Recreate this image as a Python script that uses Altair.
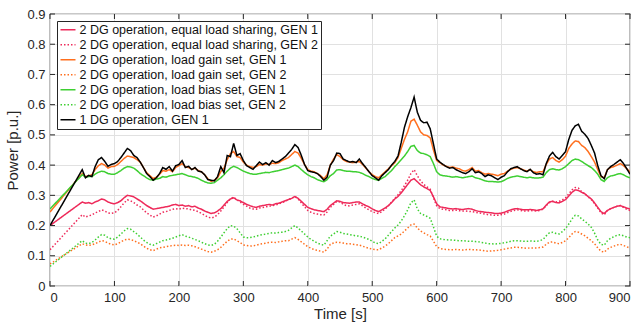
import altair as alt
import pandas as pd

# time axis [s]
time_s = [0] + list(range(50, 905, 5))

black_1dg = [0.200,
 0.385, 0.358, 0.366, 0.362, 0.395, 0.418, 0.425, 0.412, 0.396, 0.402,
 0.405, 0.412, 0.425, 0.440, 0.455, 0.448, 0.432, 0.425, 0.410, 0.392,
 0.372, 0.362, 0.350, 0.358, 0.372, 0.392, 0.386, 0.395, 0.380, 0.398,
 0.402, 0.415, 0.392, 0.396, 0.385, 0.392, 0.380, 0.378, 0.368, 0.352,
 0.350, 0.348, 0.362, 0.395, 0.375, 0.432, 0.428, 0.472, 0.432, 0.438,
 0.415, 0.398, 0.392, 0.386, 0.398, 0.410, 0.402, 0.408, 0.400, 0.415,
 0.408, 0.412, 0.420, 0.428, 0.440, 0.452, 0.468, 0.458, 0.432, 0.402,
 0.382, 0.378, 0.376, 0.372, 0.362, 0.350, 0.360, 0.400, 0.415, 0.440,
 0.438, 0.420, 0.415, 0.410, 0.412, 0.408, 0.420, 0.405, 0.392, 0.378,
 0.365, 0.358, 0.350, 0.365, 0.375, 0.385, 0.400, 0.412, 0.430, 0.475,
 0.525, 0.560, 0.590, 0.625, 0.575, 0.548, 0.540, 0.542, 0.520, 0.470,
 0.420, 0.410, 0.402, 0.395, 0.390, 0.392, 0.385, 0.380, 0.375, 0.372,
 0.378, 0.388, 0.375, 0.378, 0.372, 0.362, 0.368, 0.365, 0.358, 0.352,
 0.360, 0.365, 0.378, 0.388, 0.392, 0.395, 0.388, 0.382, 0.378, 0.386,
 0.375, 0.370, 0.372, 0.368, 0.405, 0.430, 0.442, 0.428, 0.420, 0.432,
 0.445, 0.485, 0.515, 0.530, 0.535, 0.512, 0.502, 0.488, 0.465, 0.440,
 0.398, 0.365, 0.355, 0.385, 0.395, 0.402, 0.410, 0.418, 0.405, 0.388,
 0.370]

gain_gen1 = [0.245,
 0.372, 0.362, 0.365, 0.368, 0.385, 0.398, 0.405, 0.400, 0.390, 0.395,
 0.396, 0.402, 0.412, 0.422, 0.430, 0.428, 0.425, 0.418, 0.410, 0.392,
 0.375, 0.365, 0.356, 0.360, 0.370, 0.382, 0.380, 0.385, 0.378, 0.392,
 0.398, 0.405, 0.395, 0.392, 0.386, 0.390, 0.382, 0.378, 0.368, 0.355,
 0.346, 0.350, 0.358, 0.378, 0.390, 0.418, 0.438, 0.445, 0.428, 0.425,
 0.410, 0.400, 0.395, 0.392, 0.395, 0.402, 0.400, 0.404, 0.402, 0.406,
 0.405, 0.408, 0.415, 0.420, 0.425, 0.435, 0.445, 0.440, 0.422, 0.402,
 0.385, 0.380, 0.378, 0.372, 0.365, 0.355, 0.368, 0.400, 0.420, 0.435,
 0.428, 0.418, 0.412, 0.410, 0.408, 0.410, 0.412, 0.402, 0.390, 0.378,
 0.368, 0.362, 0.358, 0.368, 0.378, 0.388, 0.398, 0.408, 0.425, 0.455,
 0.485, 0.510, 0.545, 0.552, 0.532, 0.510, 0.500, 0.498, 0.490, 0.450,
 0.415, 0.408, 0.400, 0.396, 0.392, 0.394, 0.390, 0.388, 0.382, 0.380,
 0.385, 0.392, 0.380, 0.382, 0.375, 0.370, 0.372, 0.370, 0.368, 0.365,
 0.370, 0.372, 0.380, 0.386, 0.390, 0.392, 0.388, 0.384, 0.380, 0.385,
 0.378, 0.376, 0.378, 0.378, 0.402, 0.420, 0.425, 0.415, 0.410, 0.418,
 0.430, 0.455, 0.470, 0.480, 0.478, 0.465, 0.458, 0.445, 0.428, 0.410,
 0.385, 0.362, 0.358, 0.385, 0.392, 0.395, 0.400, 0.405, 0.398, 0.388,
 0.378]

bias_gen1 = [0.255,
 0.368, 0.360, 0.362, 0.362, 0.370, 0.376, 0.380, 0.378, 0.372, 0.370,
 0.370, 0.375, 0.382, 0.390, 0.395, 0.394, 0.390, 0.382, 0.372, 0.365,
 0.358, 0.352, 0.350, 0.354, 0.356, 0.362, 0.360, 0.364, 0.366, 0.368,
 0.370, 0.372, 0.368, 0.364, 0.362, 0.360, 0.356, 0.350, 0.345, 0.341,
 0.340, 0.342, 0.350, 0.358, 0.368, 0.380, 0.390, 0.396, 0.392, 0.386,
 0.380, 0.376, 0.372, 0.370, 0.370, 0.372, 0.374, 0.376, 0.375, 0.378,
 0.380, 0.382, 0.385, 0.388, 0.390, 0.395, 0.400, 0.395, 0.385, 0.376,
 0.368, 0.362, 0.358, 0.352, 0.348, 0.345, 0.352, 0.365, 0.372, 0.384,
 0.385, 0.382, 0.380, 0.380, 0.378, 0.378, 0.376, 0.372, 0.366, 0.362,
 0.356, 0.352, 0.350, 0.356, 0.362, 0.372, 0.382, 0.395, 0.406, 0.418,
 0.430, 0.445, 0.462, 0.465, 0.448, 0.440, 0.438, 0.434, 0.428, 0.405,
 0.378, 0.368, 0.365, 0.364, 0.362, 0.360, 0.362, 0.360, 0.358, 0.360,
 0.362, 0.364, 0.358, 0.356, 0.352, 0.348, 0.346, 0.346, 0.345, 0.344,
 0.345, 0.350, 0.356, 0.360, 0.362, 0.364, 0.362, 0.360, 0.358, 0.360,
 0.358, 0.357, 0.358, 0.360, 0.375, 0.385, 0.388, 0.385, 0.384, 0.388,
 0.395, 0.405, 0.415, 0.420, 0.418, 0.412, 0.405, 0.398, 0.392, 0.382,
 0.370, 0.352, 0.346, 0.358, 0.364, 0.366, 0.370, 0.372, 0.368, 0.362,
 0.358]

equal_gen1 = [0.200,
 0.278, 0.274, 0.276, 0.272, 0.278, 0.282, 0.288, 0.285, 0.278, 0.274,
 0.272, 0.276, 0.282, 0.292, 0.300, 0.298, 0.295, 0.288, 0.282, 0.274,
 0.266, 0.260, 0.254, 0.256, 0.258, 0.260, 0.262, 0.264, 0.268, 0.270,
 0.266, 0.268, 0.264, 0.266, 0.262, 0.264, 0.258, 0.254, 0.248, 0.244,
 0.240, 0.242, 0.248, 0.256, 0.268, 0.280, 0.288, 0.292, 0.285, 0.282,
 0.276, 0.270, 0.266, 0.262, 0.260, 0.264, 0.266, 0.268, 0.270, 0.268,
 0.272, 0.274, 0.278, 0.282, 0.286, 0.290, 0.296, 0.290, 0.280, 0.270,
 0.260, 0.256, 0.252, 0.250, 0.248, 0.246, 0.254, 0.266, 0.274, 0.282,
 0.280, 0.276, 0.275, 0.274, 0.276, 0.278, 0.278, 0.272, 0.266, 0.262,
 0.255, 0.250, 0.246, 0.252, 0.258, 0.266, 0.276, 0.288, 0.296, 0.308,
 0.322, 0.336, 0.350, 0.355, 0.345, 0.335, 0.328, 0.322, 0.316, 0.295,
 0.272, 0.262, 0.260, 0.258, 0.256, 0.255, 0.256, 0.254, 0.253, 0.255,
 0.256, 0.254, 0.250, 0.247, 0.246, 0.244, 0.243, 0.242, 0.240, 0.240,
 0.241, 0.244, 0.248, 0.252, 0.255, 0.256, 0.254, 0.252, 0.252, 0.253,
 0.252, 0.250, 0.252, 0.255, 0.268, 0.278, 0.280, 0.276, 0.275, 0.280,
 0.286, 0.298, 0.310, 0.318, 0.316, 0.310, 0.305, 0.296, 0.288, 0.275,
 0.260, 0.246, 0.240, 0.250, 0.256, 0.260, 0.264, 0.266, 0.262, 0.258,
 0.255]

equal_gen2 = [0.120,
 0.236, 0.228, 0.232, 0.235, 0.242, 0.246, 0.252, 0.248, 0.242, 0.240,
 0.242, 0.250, 0.262, 0.275, 0.285, 0.282, 0.276, 0.268, 0.262, 0.252,
 0.242, 0.235, 0.228, 0.232, 0.238, 0.244, 0.246, 0.250, 0.254, 0.256,
 0.254, 0.258, 0.256, 0.255, 0.252, 0.250, 0.246, 0.240, 0.234, 0.228,
 0.225, 0.228, 0.236, 0.248, 0.262, 0.276, 0.288, 0.294, 0.285, 0.278,
 0.270, 0.264, 0.258, 0.255, 0.254, 0.258, 0.260, 0.262, 0.264, 0.266,
 0.268, 0.272, 0.276, 0.280, 0.286, 0.290, 0.296, 0.288, 0.275, 0.262,
 0.250, 0.244, 0.240, 0.238, 0.236, 0.235, 0.245, 0.260, 0.270, 0.280,
 0.278, 0.270, 0.266, 0.265, 0.268, 0.270, 0.272, 0.265, 0.258, 0.252,
 0.246, 0.242, 0.240, 0.246, 0.255, 0.265, 0.278, 0.290, 0.302, 0.315,
 0.332, 0.350, 0.372, 0.385, 0.365, 0.348, 0.336, 0.328, 0.320, 0.292,
 0.265, 0.256, 0.254, 0.252, 0.250, 0.250, 0.251, 0.249, 0.248, 0.248,
 0.247, 0.246, 0.244, 0.242, 0.240, 0.238, 0.236, 0.235, 0.234, 0.234,
 0.236, 0.238, 0.243, 0.247, 0.250, 0.252, 0.250, 0.248, 0.248, 0.250,
 0.249, 0.248, 0.250, 0.254, 0.266, 0.276, 0.280, 0.278, 0.280, 0.285,
 0.292, 0.305, 0.318, 0.326, 0.324, 0.312, 0.305, 0.295, 0.286, 0.272,
 0.258, 0.242, 0.236, 0.250, 0.256, 0.260, 0.264, 0.266, 0.260, 0.254,
 0.250]

gain_gen2 = [0.073,
 0.140, 0.136, 0.134, 0.136, 0.140, 0.145, 0.150, 0.148, 0.142, 0.138,
 0.136, 0.140, 0.146, 0.152, 0.155, 0.154, 0.150, 0.145, 0.140, 0.132,
 0.125, 0.120, 0.117, 0.122, 0.126, 0.128, 0.130, 0.132, 0.134, 0.135,
 0.134, 0.136, 0.134, 0.135, 0.133, 0.130, 0.126, 0.122, 0.118, 0.114,
 0.112, 0.115, 0.120, 0.128, 0.138, 0.148, 0.155, 0.156, 0.150, 0.144,
 0.136, 0.134, 0.132, 0.133, 0.135, 0.138, 0.140, 0.142, 0.144, 0.145,
 0.144, 0.146, 0.148, 0.150, 0.150, 0.155, 0.160, 0.154, 0.146, 0.138,
 0.130, 0.125, 0.120, 0.118, 0.115, 0.112, 0.122, 0.138, 0.142, 0.145,
 0.144, 0.142, 0.140, 0.140, 0.138, 0.137, 0.135, 0.132, 0.128, 0.125,
 0.122, 0.120, 0.120, 0.126, 0.132, 0.140, 0.150, 0.160, 0.166, 0.172,
 0.182, 0.192, 0.202, 0.205, 0.192, 0.182, 0.176, 0.170, 0.165, 0.148,
 0.130, 0.124, 0.122, 0.121, 0.120, 0.120, 0.121, 0.120, 0.119, 0.120,
 0.121, 0.120, 0.120, 0.119, 0.118, 0.116, 0.115, 0.116, 0.117, 0.118,
 0.120, 0.122, 0.124, 0.126, 0.128, 0.128, 0.127, 0.126, 0.125, 0.126,
 0.126, 0.126, 0.127, 0.129, 0.138, 0.145, 0.146, 0.142, 0.140, 0.144,
 0.150, 0.160, 0.172, 0.180, 0.178, 0.172, 0.166, 0.158, 0.150, 0.140,
 0.126, 0.115, 0.112, 0.122, 0.128, 0.132, 0.136, 0.138, 0.134, 0.130,
 0.125]

bias_gen2 = [0.065,
 0.150, 0.142, 0.140, 0.144, 0.152, 0.162, 0.170, 0.168, 0.160, 0.156,
 0.155, 0.162, 0.172, 0.182, 0.190, 0.188, 0.180, 0.172, 0.162, 0.152,
 0.144, 0.138, 0.135, 0.140, 0.145, 0.150, 0.152, 0.155, 0.158, 0.162,
 0.166, 0.170, 0.165, 0.162, 0.158, 0.154, 0.150, 0.145, 0.140, 0.136,
 0.134, 0.138, 0.148, 0.162, 0.176, 0.190, 0.200, 0.198, 0.190, 0.176,
 0.162, 0.160, 0.160, 0.162, 0.165, 0.168, 0.170, 0.172, 0.174, 0.176,
 0.175, 0.177, 0.178, 0.180, 0.184, 0.192, 0.200, 0.192, 0.182, 0.172,
 0.162, 0.154, 0.148, 0.142, 0.138, 0.135, 0.150, 0.165, 0.172, 0.180,
 0.178, 0.174, 0.172, 0.170, 0.168, 0.166, 0.165, 0.162, 0.158, 0.154,
 0.148, 0.142, 0.140, 0.148, 0.156, 0.168, 0.180, 0.192, 0.202, 0.215,
 0.232, 0.252, 0.275, 0.285, 0.255, 0.240, 0.235, 0.230, 0.224, 0.195,
 0.165, 0.156, 0.154, 0.153, 0.152, 0.152, 0.151, 0.150, 0.150, 0.149,
 0.148, 0.148, 0.147, 0.146, 0.144, 0.142, 0.140, 0.140, 0.139, 0.140,
 0.141, 0.143, 0.145, 0.148, 0.150, 0.150, 0.149, 0.148, 0.148, 0.149,
 0.148, 0.148, 0.150, 0.154, 0.166, 0.176, 0.178, 0.174, 0.172, 0.180,
 0.190, 0.205, 0.222, 0.234, 0.232, 0.222, 0.214, 0.205, 0.194, 0.175,
 0.152, 0.138, 0.135, 0.150, 0.158, 0.163, 0.168, 0.170, 0.166, 0.162,
 0.160]

labels = [
    "2 DG operation, equal load sharing, GEN 1",
    "2 DG operation, equal load sharing, GEN 2",
    "2 DG operation, load gain set, GEN 1",
    "2 DG operation, load gain set, GEN 2",
    "2 DG operation, load bias set, GEN 1",
    "2 DG operation, load bias set, GEN 2",
    "1 DG operation, GEN 1",
]
series = [equal_gen1, equal_gen2, gain_gen1, gain_gen2, bias_gen1, bias_gen2, black_1dg]
colors = ["#EE2A5A", "#EE2A5A", "#FF6F1E", "#FF6F1E", "#3ECF32", "#3ECF32", "#000000"]
dashes = [[1, 0], [1.5, 2], [1, 0], [1.5, 2], [1, 0], [1.5, 2], [1, 0]]

x_ticks = list(range(0, 1000, 100))
y_ticks = [0, 0.1, 0.2, 0.3, 0.4, 0.5, 0.6, 0.7, 0.8, 0.9]

rows = []
for lab, vals in zip(labels, series):
    for t, v in zip(time_s, vals):
        rows.append({"t": t, "p": v, "s": lab})
df = pd.DataFrame(rows)

W, H = 580, 272
FONT = "Liberation Sans"
AX = "#262626"

xscale = alt.Scale(domain=[0, 900], nice=False, zero=False)
yscale = alt.Scale(domain=[0, 0.9], nice=False, zero=False)
xaxis = alt.Axis(values=x_ticks, title="Time [s]", format="d")
yaxis = alt.Axis(values=y_ticks, title="Power [p.u.]", format="~g")

lines = alt.Chart(df).mark_line(strokeWidth=1.5, clip=True).encode(
    x=alt.X("t:Q", scale=xscale, axis=xaxis),
    y=alt.Y("p:Q", scale=yscale, axis=yaxis),
    color=alt.Color("s:N", scale=alt.Scale(domain=labels, range=colors),
                    legend=alt.Legend(
                        title=None, orient="top-left", offset=7, padding=2.5,
                        fillColor="white", strokeColor=AX,
                        symbolType="stroke", symbolSize=225, symbolStrokeWidth=1.5,
                        clipHeight=12.5,
                        labelFontSize=12.5, labelFont=FONT, labelColor="#111111",
                        labelOffset=3, rowPadding=2, labelLimit=500)),
    strokeDash=alt.StrokeDash("s:N", scale=alt.Scale(domain=labels, range=dashes),
                              legend=alt.Legend(title=None)),
)

xt = pd.DataFrame({"t": x_ticks})
yt = pd.DataFrame({"p": y_ticks})

xb = alt.Chart(xt).mark_rule(color=AX, strokeWidth=1).encode(
    x=alt.X("t:Q", scale=xscale, axis=xaxis), y=alt.value(H), y2=alt.value(H - 5))
xtop = alt.Chart(xt).mark_rule(color=AX, strokeWidth=1).encode(
    x=alt.X("t:Q", scale=xscale, axis=xaxis), y=alt.value(0), y2=alt.value(5))
yl = alt.Chart(yt).mark_rule(color=AX, strokeWidth=1).encode(
    y=alt.Y("p:Q", scale=yscale, axis=yaxis), x=alt.value(0), x2=alt.value(5))
yr = alt.Chart(yt).mark_rule(color=AX, strokeWidth=1).encode(
    y=alt.Y("p:Q", scale=yscale, axis=yaxis), x=alt.value(W), x2=alt.value(W - 5))

chart = alt.layer(lines, xb, xtop, yl, yr).properties(
    width=W, height=H,
    padding={"left": 50, "top": 14, "right": 11, "bottom": 40},
    autosize=alt.AutoSizeParams(type="none"),
    background="white",
).configure_view(
    stroke=AX, strokeWidth=1.2,
).configure_axis(
    grid=True, gridColor="#e1e1e1", gridWidth=1,
    domain=False, ticks=False,
    labelFont=FONT, labelFontSize=13, labelColor=AX, labelPadding=5,
    titleFont=FONT, titleFontSize=15, titleFontWeight="normal", titleColor=AX,
).configure_axisX(titlePadding=2).configure_axisY(titlePadding=6)

chart.save("out.html", embed_options={"renderer": "svg", "actions": False})
